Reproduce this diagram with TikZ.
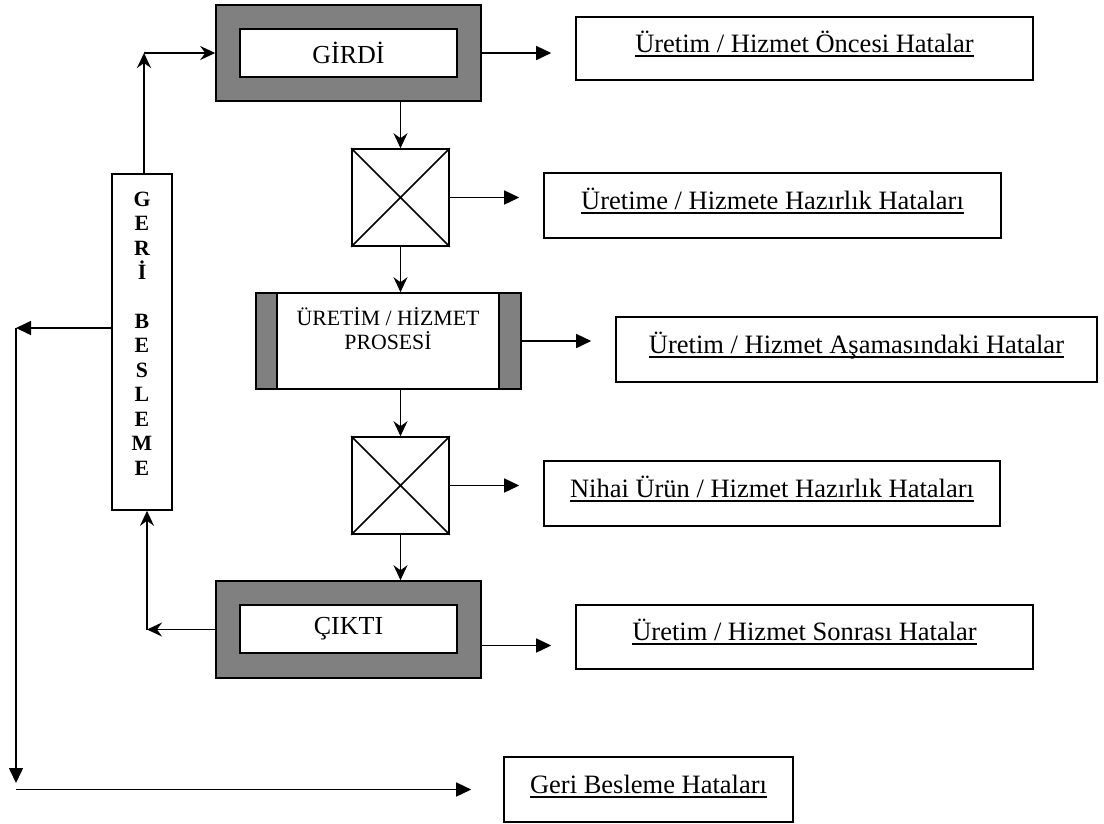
\documentclass[tikz,border=0pt]{standalone}
\usepackage{fontspec}
\setmainfont{Liberation Serif}
\usetikzlibrary{arrows.meta}
\newcommand{\altcizgi}[1]{\setbox0\hbox{#1}\leavevmode\rlap{\rule[-4.5pt]{\wd0}{1.8pt}}\box0}
\newcommand{\carpi}[1]{\draw[line width=1.5pt] (#1.north west) -- (#1.south east) (#1.south west) -- (#1.north east);}
\tikzset{
  kutu/.style={draw,line width=1.6pt,rectangle,inner sep=0pt},
  gri/.style={kutu,fill=gray},
  beyaz/.style={kutu,fill=white},
  hatakutu/.style={kutu,fill=white,font=\fontsize{26.5}{32}\selectfont,text height=23pt,text depth=16pt},
  akis/.style={line width=1.5pt,-{Stealth[length=15pt,width=14pt,inset=5pt]}},
  hataok/.style={line width=1.5pt,-{Triangle[length=15pt,width=14pt]},shorten >=24pt},
}

\begin{document}
\begin{tikzpicture}[x=1pt,y=-1pt]
			\useasboundingbox (0,0) rectangle (1104,823);
			\node[gri,minimum width=265pt,minimum height=96pt](girdi) at (348.5,53) {};
			\node[beyaz,minimum width=217pt,minimum height=48pt,font=\fontsize{26}{31}\selectfont](girdiyazi) at (348.5,53) {GİRDİ};
			\node[kutu,minimum size=97pt](kutu1) at (400.5,197.5) {};
			\carpi{kutu1}
			\node[gri,minimum width=265pt,minimum height=96pt](proses) at (388.5,341) {};
			\node[beyaz,minimum width=222pt,minimum height=96pt](prosesic) at (388,341) {};
			\node[align=center,font=\fontsize{21.8}{23.5}\selectfont](prosesyazi) at (388,328.5) {ÜRETİM / HİZMET\\PROSESİ};
			\node[kutu,minimum size=97pt](kutu2) at (400.5,485.5) {};
			\carpi{kutu2}
			\node[gri,minimum width=265pt,minimum height=97pt](cikti) at (348.5,629.5) {};
			\node[beyaz,minimum width=217pt,minimum height=48pt,font=\fontsize{26}{31}\selectfont](ciktiyazi) at (348.5,629) {ÇIKTI};
			\node[kutu,minimum width=60pt,minimum height=336pt](geri) at (142,342) {};
			\node[align=center,font=\bfseries\fontsize{21.8}{24.45}\selectfont](geriyazi) at (142,333.5) {G\\E\\R\\İ\\[24.45pt]B\\E\\S\\L\\E\\M\\E};
			
			\node[hatakutu,minimum width=457pt,minimum height=63pt](h1) at (804.5,48.5) {\altcizgi{Üretim / Hizmet Öncesi Hatalar}};
			\node[hatakutu,minimum width=457pt,minimum height=65pt](h2) at (772.5,205.5) {\altcizgi{Üretime / Hizmete Hazırlık Hataları}};
			\node[hatakutu,minimum width=481pt,minimum height=65pt](h3) at (856.5,349.5) {\altcizgi{Üretim / Hizmet Aşamasındaki Hatalar}};
			\node[hatakutu,minimum width=456pt,minimum height=65pt](h4) at (772,493.5) {\altcizgi{Nihai Ürün / Hizmet Hazırlık Hataları}};
			\node[hatakutu,minimum width=457pt,minimum height=64pt](h5) at (804.5,637) {\altcizgi{Üretim / Hizmet Sonrası Hatalar}};
			\node[hatakutu,minimum width=289pt,minimum height=65pt](h6) at (648.5,789.5) {\altcizgi{Geri Besleme Hataları}};
			
			\coordinate (kose1) at (144,53);
			\coordinate (kose2) at (147,629.5);
			\coordinate (kose3) at (16,328);
			\coordinate (kose4) at (16,783);
			
			\draw[akis] (kose1 |- geri.north) -- (kose1);
			\draw[akis] (kose1) -- (girdi.west);
			\draw[akis] (kutu1.north |- girdi.south) -- (kutu1.north);
			\draw[akis] (kutu1.south) -- (kutu1.south |- proses.north);
			\draw[akis] (kutu2.north |- proses.south) -- (kutu2.north);
			\draw[akis] (kutu2.south) -- (kutu2.south |- cikti.north);
			\draw[akis] (cikti.west) -- (kose2);
			\draw[akis] (kose2) -- (kose2 |- geri.south);
			
			\draw[hataok] (girdi.east) -- (girdi.east -| h1.west);
			\draw[hataok] (kutu1.east) -- (kutu1.east -| h2.west);
			\draw[hataok] (proses.east) -- (proses.east -| h3.west);
			\draw[hataok] (kutu2.east) -- (kutu2.east -| h4.west);
			\draw[hataok] ([yshift=-16pt]cikti.east) -- ([yshift=-16pt]cikti.east -| h5.west);
			\draw[hataok,shorten >=0pt] ([yshift=14pt]geri.west) -- (kose3);
			\draw[hataok,shorten >=0pt] (kose3) -- (kose4);
			\draw[hataok,shorten >=32pt] (kose3 |- h6.west) -- (h6.west);
		\end{tikzpicture}
\end{document}
